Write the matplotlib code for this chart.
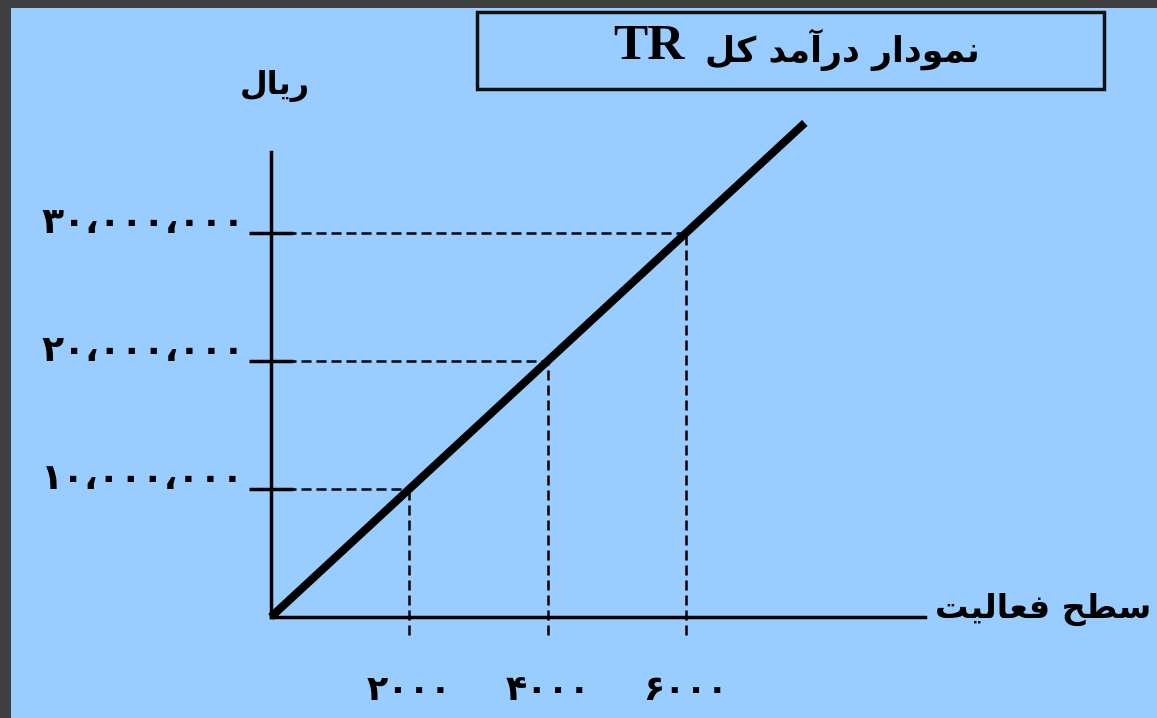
import matplotlib
matplotlib.use("Agg")
import matplotlib.pyplot as plt
from matplotlib.patches import Rectangle

# data
quantity = [2000, 4000, 6000]
revenue = [10000000, 20000000, 30000000]
line_q = [0, 7720]
line_tr = [0, 38600000]
x_labels = ["۲۰۰۰", "۴۰۰۰", "۶۰۰۰"]
y_labels = ["۱۰،۰۰۰،۰۰۰", "۲۰،۰۰۰،۰۰۰", "۳۰،۰۰۰،۰۰۰"]
title_fa = "نمودار درآمد کل"
title_en = "TR"
x_title = "سطح فعالیت"
y_title = "ریال"

# arabic presentation forms: isolated, final, initial, medial
FORMS = {
    "ا": (0xFE8D, 0xFE8E), "آ": (0xFE81, 0xFE82),
    "د": (0xFEA9, 0xFEAA), "ر": (0xFEAD, 0xFEAE), "و": (0xFEED, 0xFEEE),
    "ن": (0xFEE5, 0xFEE6, 0xFEE7, 0xFEE8), "م": (0xFEE1, 0xFEE2, 0xFEE3, 0xFEE4),
    "ل": (0xFEDD, 0xFEDE, 0xFEDF, 0xFEE0), "ک": (0xFB8E, 0xFB8F, 0xFB90, 0xFB91),
    "ی": (0xFBFC, 0xFBFD, 0xFEF3, 0xFEF4), "س": (0xFEB1, 0xFEB2, 0xFEB3, 0xFEB4),
    "ط": (0xFEC1, 0xFEC2, 0xFEC3, 0xFEC4), "ح": (0xFEA1, 0xFEA2, 0xFEA3, 0xFEA4),
    "ف": (0xFED1, 0xFED2, 0xFED3, 0xFED4), "ع": (0xFEC9, 0xFECA, 0xFECB, 0xFECC),
    "ت": (0xFE95, 0xFE96, 0xFE97, 0xFE98),
}


def shape(text):
    # no shaping/bidi in matplotlib, so do it by hand and reverse
    out = []
    for i, ch in enumerate(text):
        if ch not in FORMS:
            out.append(ch)
            continue
        prev = text[i - 1] if i > 0 else ""
        nxt = text[i + 1] if i + 1 < len(text) else ""
        j_prev = prev in FORMS and len(FORMS[prev]) == 4
        j_next = len(FORMS[ch]) == 4 and nxt in FORMS
        if j_prev and j_next:
            k = 3
        elif j_prev:
            k = 1
        elif j_next:
            k = 2
        else:
            k = 0
        out.append(chr(FORMS[ch][k]))
    return "".join(out)[::-1]


W, H = 1157, 718


def fx(px):
    return px / W


def fy(py):
    return 1 - py / H


fig = plt.figure(figsize=(W / 100, H / 100), dpi=100, facecolor="#404042")
fig.add_artist(Rectangle((fx(11), 0), 1 - fx(11), fy(8), transform=fig.transFigure,
                         facecolor="#99ccff", edgecolor="none", zorder=0))

ax = fig.add_axes([fx(271), fy(617), fx(925) - fx(271), fy(152) - fy(617)])
ax.patch.set_alpha(0)
ax.set_xlim(0, 9458)
ax.set_ylim(0, 36330000)
for s in ["top", "right"]:
    ax.spines[s].set_visible(False)
for s in ["left", "bottom"]:
    ax.spines[s].set_linewidth(2.5)
    ax.spines[s].set_color("black")

ax.plot(line_q, line_tr, color="black", lw=5.8, solid_capstyle="butt", clip_on=False, zorder=5)

dash = (0, (4, 2))
for q, r in zip(quantity, revenue):
    ax.plot([0, q], [r, r], color="black", lw=1.8, linestyle=dash, zorder=3)
    ax.plot([q, q], [-1400000, r], color="black", lw=1.8, linestyle=dash, clip_on=False, zorder=3)

ax.set_yticks(revenue, labels=y_labels, family="DejaVu Sans", weight="bold", size=26)
ax.tick_params(axis="y", direction="inout", length=32, width=2.5, color="black", pad=3)
for t in ax.get_yticklabels():
    t.set_va("baseline")
ax.set_xticks(quantity, labels=x_labels, family="DejaVu Sans", weight="bold", size=25)
ax.tick_params(axis="x", length=0, pad=40)

fig.text(fx(275), fy(86), shape(y_title), ha="center", va="center",
         family="DejaVu Sans", weight="bold", fontsize=23)
fig.text(fx(1043), fy(609), shape(x_title), ha="center", va="center",
         family="DejaVu Sans", weight="bold", fontsize=24)

fig.add_artist(Rectangle((fx(477), fy(89)), fx(1104) - fx(477), fy(12) - fy(89),
                         transform=fig.transFigure, facecolor="none",
                         edgecolor="#111111", lw=2.5))
fig.text(fx(649), fy(47), title_en, ha="center", va="center",
         family="Liberation Serif", weight="bold", fontsize=37)
fig.text(fx(842), fy(50), shape(title_fa), ha="center", va="center",
         family="DejaVu Sans", weight="bold", fontsize=25)

fig.savefig("out.png", dpi=100, facecolor=fig.get_facecolor())
